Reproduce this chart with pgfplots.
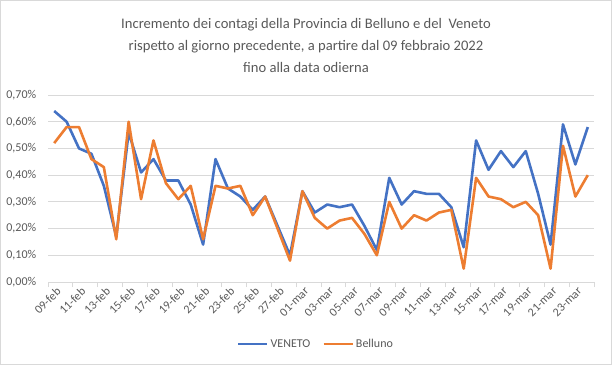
\documentclass[border=0pt]{standalone}
\usepackage{pgfplots}
\pgfplotsset{compat=1.18}
\usepackage{fontspec}
\setmainfont{Carlito}
\definecolor{vblue}{HTML}{4472C4}
\definecolor{borange}{HTML}{ED7D31}
\definecolor{txtgray}{HTML}{595959}
\definecolor{gridgray}{HTML}{D9D9D9}
\begin{document}
\begin{tikzpicture}
\draw[gridgray, line width=1bp] (0.5bp,0.5bp) rectangle (611.5bp,364.5bp);
\node[txtgray, font=\fontsize{14.6bp}{22bp}\selectfont, align=center] at (306bp,320bp)
  {Incremento dei contagi della Provincia di Belluno e del\ \ Veneto\\rispetto al giorno precedente, a partire dal 09 febbraio 2022\\fino alla data odierna};
\begin{axis}[
  at={(48bp,83bp)}, anchor=south west,
  width=546bp, height=187bp, scale only axis,
  xmin=-0.5, xmax=43.5, ymin=0, ymax=0.7,
  axis x line*=bottom, axis y line*=left,
  x axis line style={-, draw=gridgray, line width=0.8bp},
  y axis line style={draw=none},
  ytick={0,0.1,...,0.7},
  ymajorgrids, grid style={gridgray, line width=0.8bp},
  /pgf/number format/assume math mode=true,
  yticklabel={\pgfmathprintnumber[fixed,fixed zerofill,precision=2,use comma]{\tick}\%},
  yticklabel style={txtgray, font=\fontsize{12bp}{14bp}\selectfont, xshift=-4bp},
  xtick={0,2,...,42},
  xticklabels={09-feb,11-feb,13-feb,15-feb,17-feb,19-feb,21-feb,23-feb,25-feb,27-feb,01-mar,03-mar,05-mar,07-mar,09-mar,11-mar,13-mar,15-mar,17-mar,19-mar,21-mar,23-mar},
  xticklabel style={txtgray, font=\fontsize{12bp}{14bp}\selectfont, rotate=45, anchor=north east, inner sep=1bp, yshift=0bp, xshift=2bp},
  major x tick style={draw=none},
  minor xtick={-0.5,1.5,...,43.5},
  minor tick length=5bp,
  tick align=outside,
  minor x tick style={draw=gridgray, line width=0.8bp},
  ytick style={draw=none},
  legend columns=2,
  legend style={draw=none, at={(0.5,-0.332)}, anchor=center, xshift=-5bp, font=\fontsize{12bp}{14bp}\selectfont, text=txtgray, /tikz/every even column/.append style={column sep=10bp}},
  legend image code/.code={\draw[#1] (0bp,0bp) -- (29bp,0bp);},
  legend cell align=left,
]
\addplot[vblue, line width=2.6bp, line join=round] coordinates {
(0,0.64)(1,0.60)(2,0.50)(3,0.48)(4,0.36)(5,0.17)(6,0.56)(7,0.41)(8,0.46)(9,0.38)
(10,0.38)(11,0.29)(12,0.14)(13,0.46)(14,0.35)(15,0.32)(16,0.27)(17,0.32)(18,0.21)(19,0.10)
(20,0.34)(21,0.26)(22,0.29)(23,0.28)(24,0.29)(25,0.21)(26,0.12)(27,0.39)(28,0.29)(29,0.34)
(30,0.33)(31,0.33)(32,0.28)(33,0.13)(34,0.53)(35,0.42)(36,0.49)(37,0.43)(38,0.49)(39,0.33)
(40,0.14)(41,0.59)(42,0.44)(43,0.58)};
\addlegendentry{VENETO}
\addplot[borange, line width=2.6bp, line join=round] coordinates {
(0,0.52)(1,0.58)(2,0.58)(3,0.46)(4,0.43)(5,0.16)(6,0.60)(7,0.31)(8,0.53)(9,0.37)
(10,0.31)(11,0.36)(12,0.16)(13,0.36)(14,0.35)(15,0.36)(16,0.25)(17,0.32)(18,0.20)(19,0.08)
(20,0.34)(21,0.24)(22,0.20)(23,0.23)(24,0.24)(25,0.18)(26,0.10)(27,0.30)(28,0.20)(29,0.25)
(30,0.23)(31,0.26)(32,0.27)(33,0.05)(34,0.39)(35,0.32)(36,0.31)(37,0.28)(38,0.30)(39,0.25)
(40,0.05)(41,0.51)(42,0.32)(43,0.40)};
\addlegendentry{Belluno}
\end{axis}
\end{tikzpicture}
\end{document}
